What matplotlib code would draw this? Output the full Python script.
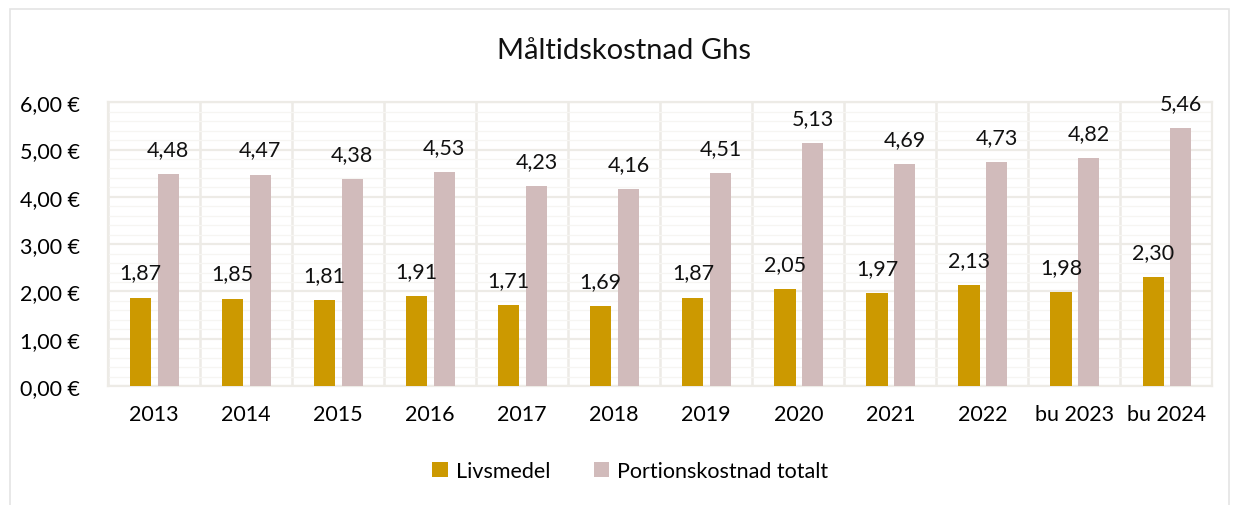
import matplotlib.pyplot as plt
import numpy as np
from matplotlib.patches import Rectangle

plt.rcParams['font.family'] = ['Lato', 'DejaVu Sans']

years = ['2013', '2014', '2015', '2016', '2017', '2018', '2019', '2020',
         '2021', '2022', 'bu 2023', 'bu 2024']
livsmedel = [1.87, 1.85, 1.81, 1.91, 1.71, 1.69, 1.87, 2.05, 1.97, 2.13, 1.98, 2.30]
portion = [4.48, 4.47, 4.38, 4.53, 4.23, 4.16, 4.51, 5.13, 4.69, 4.73, 4.82, 5.46]
yticks = [0, 1, 2, 3, 4, 5, 6]

gold = '#CC9900'
pink = '#D1BBBB'
gridc = '#EDEBE6'

fig = plt.figure(figsize=(12.41, 5.06), dpi=100)
ax = fig.add_axes([0.087, 0.235, 0.89, 0.561])

# outer frame of the chart
fig.patches.append(Rectangle((0.008, -0.02), 0.982, 1.0, transform=fig.transFigure,
                             fill=False, edgecolor='#E4E4E4', lw=1.2))

x = np.arange(len(years))
w = 0.23
b1 = ax.bar(x - 0.145, livsmedel, w, color=gold, label='Livsmedel', zorder=3)
b2 = ax.bar(x + 0.155, portion, w, color=pink, label='Portionskostnad totalt', zorder=3)

for rect, v in zip(list(b1) + list(b2), livsmedel + portion):
    ax.text(rect.get_x() + rect.get_width() / 2, v + 0.53, f'{v:.2f}'.replace('.', ','),
            ha='center', va='center', fontsize=15.5, color='#111111')

ax.set_xlim(-0.5, len(years) - 0.5)
ax.set_ylim(0, 6)
ax.set_yticks(yticks)
ax.set_yticklabels([f'{t:.2f} €'.replace('.', ',') for t in yticks], fontsize=15.5)
ax.set_yticks(np.arange(0, 6.01, 0.2), minor=True)
ax.set_xticks(x)
ax.set_xticklabels(years, fontsize=15.5)
ax.set_xticks(np.arange(-0.5, len(years)), minor=True)
ax.tick_params(which='both', length=0)
ax.tick_params(axis='y', pad=20)
ax.tick_params(axis='x', pad=13)

ax.grid(axis='y', which='major', color=gridc, lw=1.6, zorder=0)
ax.grid(axis='y', which='minor', color='#F6F5F2', lw=0.9, zorder=0)
ax.grid(axis='x', which='minor', color=gridc, lw=1.8, zorder=0)
for s in ax.spines.values():
    s.set_color(gridc)
    s.set_linewidth(1.6)

fig.suptitle('Måltidskostnad Ghs', x=0.503, y=0.925, fontsize=21, color='#111111')
fig.legend(loc='center', bbox_to_anchor=(0.508, 0.067), ncol=2, frameon=False,
           fontsize=15.5, handlelength=0.7, handleheight=0.7, handletextpad=0.4,
           columnspacing=2.0)

fig.savefig('out.png', dpi=100)
